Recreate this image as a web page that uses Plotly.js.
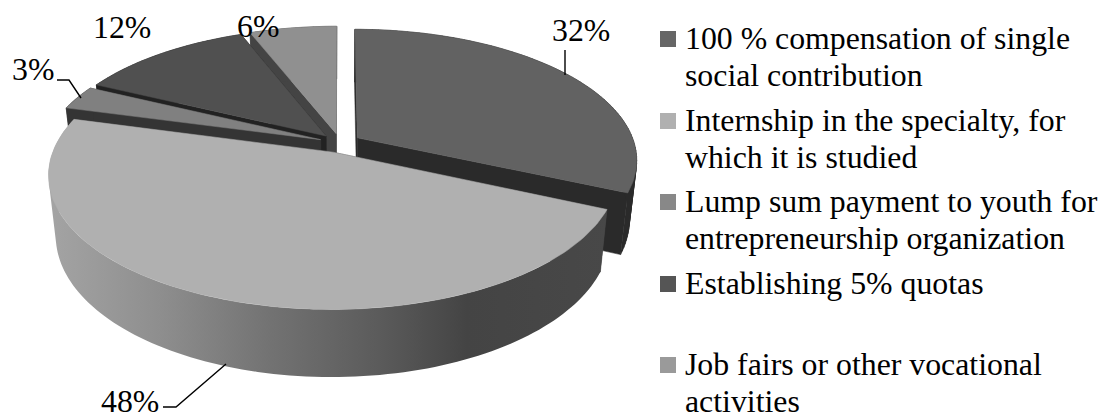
<!DOCTYPE html>
<html><head><meta charset="utf-8">
<script src="https://cdn.plot.ly/plotly-3.0.1.min.js"></script>
<style>html,body{margin:0;padding:0;background:#fff;overflow:hidden}</style></head>
<body><div id="chart" style="width:1108px;height:415px"></div>
<script>
const categories = [
  "100 % compensation of single<br>social contribution",
  "Internship in the specialty, for<br>which it is studied",
  "Lump sum payment to youth for<br>entrepreneurship organization",
  "Establishing 5% quotas",
  "Job fairs or other vocational<br>activities"
];
const values = [32, 48, 3, 12, 6];
const topColors = ["#626262", "#b0b0b0", "#808080", "#505050", "#909090"];
const faceColors = ["#2a2a2a", "#444444", "#343434", "#222222", "#444444"];
const legendColors = ["#666666", "#b0b0b0", "#888888", "#555555", "#9a9a9a"];
const paintOrder = [4, 3, 2, 0, 1];

// view parameters of the tilted pie
const cx = 340, cy = 143, rx = 277, ry = 128, persp = 0.165, depth = 59, depthPow = 0.7, shrink = 0.975, explode = 0.075;
const total = values.reduce((a, b) => a + b, 0);
function proj(U, V, low) {
  const w = 1 / (1 + persp * V);
  let x = cx + rx * U * w, y = cy - ry * V * w;
  if (low) { x = cx + (x - cx) * shrink; y += depth * Math.pow(w, depthPow); }
  return [x, y];
}
const traces = [];
function poly(pts, extra) {
  traces.push(Object.assign({
    type: "scatter", mode: "lines", x: pts.map(p => p[0]).concat(pts[0][0]), y: pts.map(p => p[1]).concat(pts[0][1]),
    fill: "toself", line: {width: 0.5}, hoverinfo: "skip", showlegend: false
  }, extra));
}
// outer wall: one consistently wound quad per rim step, so the silhouette stays solid
function band(upper, lower, extra) {
  const xs = [], ys = [];
  for (let k = 0; k < upper.length - 1; k++) {
    let q = [upper[k], upper[k + 1], lower[k + 1], lower[k]];
    let area = 0;
    q.forEach((p, j) => { const r = q[(j + 1) % 4]; area += p[0] * r[1] - r[0] * p[1]; });
    if (area < 0) q = q.slice().reverse();
    q.concat([q[0]]).forEach(p => { xs.push(p[0]); ys.push(p[1]); });
    xs.push(null); ys.push(null);
  }
  traces.push(Object.assign({type: "scatter", mode: "lines", x: xs, y: ys, fill: "toself", hoverinfo: "skip", showlegend: false}, extra));
}
let acc = 0;
const slices = values.map(v => { const a = acc / total * 2 * Math.PI; acc += v; return [a, acc / total * 2 * Math.PI]; });
paintOrder.forEach(i => {
  const [a, b] = slices[i], m = (a + b) / 2;
  const ox = explode * Math.sin(m), oy = explode * Math.cos(m);
  const rim = [];
  const n = Math.max(4, Math.round((b - a) * 40));
  for (let k = 0; k <= n; k++) { const t = a + (b - a) * k / n; rim.push([ox + Math.sin(t), oy + Math.cos(t)]); }
  const topRim = rim.map(p => proj(p[0], p[1], false));
  const lowRim = rim.map(p => proj(p[0], p[1], true));
  const apex = proj(ox, oy, false), apexLow = proj(ox, oy, true);
  // radial faces
  const face = {fillcolor: faceColors[i], line: {width: 0.5, color: faceColors[i]}};
  poly([apex, topRim[0], lowRim[0], apexLow], face);
  poly([apex, topRim[n], lowRim[n], apexLow], face);
  // outer wall
  if (i === 1) {
    band(topRim, lowRim, {
      fillcolor: "#808080", line: {width: 0},
      fillgradient: {type: "horizontal", colorscale: [[0, "#a4a4a4"], [0.2, "#8e8e8e"], [0.4, "#727272"], [0.6, "#5a5a5a"], [0.75, "#444444"], [1, "#484848"]]}
    });
  } else {
    band(topRim, lowRim, {fillcolor: faceColors[i], line: {width: 0.5, color: faceColors[i]}});
  }
  // top surface
  poly([apex].concat(topRim), {fillcolor: topColors[i], line: {width: 0.5, color: topColors[i]}});
});

// leader lines
const leaders = [
  [[565, 565], [50, 75]],
  [[57, 69, 81], [80, 80, 98]],
  [[163, 176, 226], [407, 407, 364]]
];
leaders.forEach(l => traces.push({type: "scatter", mode: "lines", x: l[0], y: l[1], line: {color: "#000", width: 1.4}, hoverinfo: "skip", showlegend: false}));

// legend
const font = {family: "Liberation Serif, Times New Roman, serif", size: 31.8, color: "#000"};
const legendY = [39, 121, 202, 284, 365];
traces.push({type: "scatter", mode: "markers", x: legendY.map(() => 668), y: legendY,
  marker: {symbol: "square", size: 16, color: legendColors, line: {width: 0}}, hoverinfo: "skip", showlegend: false});
const annotations = [];
categories.forEach((c, i) => c.split("<br>").forEach((line, j) => annotations.push({
  x: 683, y: legendY[i] - 1 + j * 37, text: line, showarrow: false, xanchor: "left", yanchor: "middle", font
})));
const pctPos = [[581, 30], [130, 401], [33, 69], [122, 27], [258, 26]];
values.forEach((v, i) => annotations.push({x: pctPos[i][0], y: pctPos[i][1], text: v + "%", showarrow: false, font, xanchor: "center", yanchor: "middle"}));

Plotly.newPlot("chart", traces, {
  width: 1108, height: 415, margin: {l: 0, r: 0, t: 0, b: 0},
  paper_bgcolor: "#fff", plot_bgcolor: "#fff", showlegend: false,
  xaxis: {range: [0, 1108], visible: false, fixedrange: true},
  yaxis: {range: [415, 0], visible: false, fixedrange: true},
  annotations
}, {displayModeBar: false, staticPlot: true});
</script></body></html>
